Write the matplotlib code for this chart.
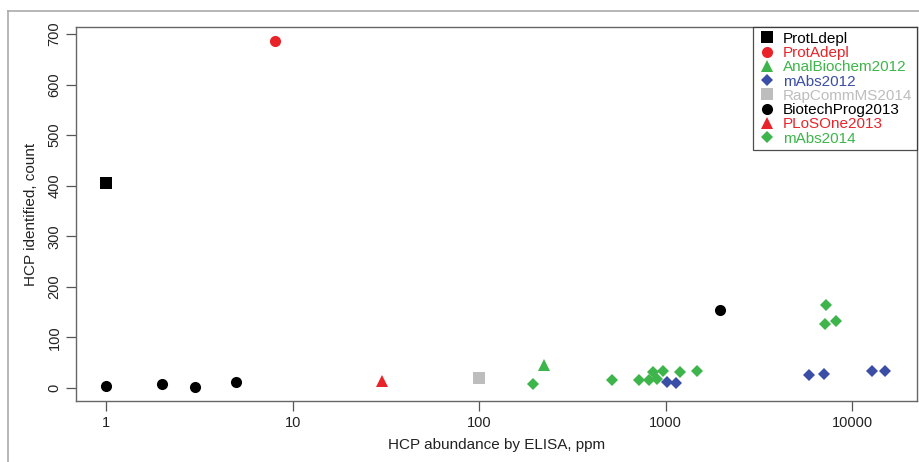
import matplotlib
matplotlib.use("Agg")
import matplotlib.pyplot as plt
from matplotlib.lines import Line2D

plt.rcParams['font.family'] = ['Liberation Sans', 'DejaVu Sans']

series_names = ["ProtLdepl", "ProtAdepl", "AnalBiochem2012", "mAbs2012",
                "RapCommMS2014", "BiotechProg2013", "PLoSOne2013", "mAbs2014"]

protL_x = [1]
protL_y = [405]
protA_x = [8]
protA_y = [686]
anal_x = [223]
anal_y = [46]
mabs12_x = [1010, 1140, 5820, 7050, 12700, 15000]
mabs12_y = [12, 9, 25, 27, 34, 34]
rap_x = [100]
rap_y = [20]
biotech_x = [1, 2, 3, 5, 1960]
biotech_y = [3, 7, 2, 11, 154]
plos_x = [30]
plos_y = [13]
mabs14_x = [193, 516, 717, 811, 852, 895, 972, 1193, 1465, 7230, 7140, 8140]
mabs14_y = [7, 15, 15, 15, 31, 18, 34, 31, 34, 163, 126, 133]

x_ticks = [1, 10, 100, 1000, 10000]
y_ticks = [0, 100, 200, 300, 400, 500, 600, 700]

black = "#000000"
red = "#e8242a"
green = "#3db54a"
blue = "#3a4ea6"
gray = "#bdbdbd"

styles = [
    (protL_x, protL_y, "s", black, 8),
    (protA_x, protA_y, "o", red, 8),
    (anal_x, anal_y, "^", green, 9),
    (mabs12_x, mabs12_y, "D", blue, 6),
    (rap_x, rap_y, "s", gray, 8),
    (biotech_x, biotech_y, "o", black, 8),
    (plos_x, plos_y, "^", red, 9),
    (mabs14_x, mabs14_y, "D", green, 6),
]

fig = plt.figure(figsize=(9.2, 4.62), dpi=100)
ax = fig.add_axes([76 / 920, 61 / 462, 841 / 920, 374 / 462])

handles = []
for (xs, ys, m, c, ms), name in zip(styles, series_names):
    h, = ax.plot(xs, ys, linestyle="none", marker=m, color=c, markersize=ms,
                 markeredgewidth=0, label=name)
    handles.append(h)

ax.set_xscale("log")
ax.set_xlim(0.69, 22200)
ax.set_ylim(-26, 714)
ax.set_xticks(x_ticks)
ax.set_xticklabels([str(v) for v in x_ticks])
ax.minorticks_off()
ax.set_yticks(y_ticks)
ax.set_yticklabels([str(v) for v in y_ticks], rotation=90, va="center")
ax.tick_params(axis="both", direction="out", length=7, width=0.9, labelsize=10.5,
               color="#555555", labelcolor="#222222", pad=3.5)
for s in ax.spines.values():
    s.set_linewidth(1.0)
    s.set_color("#666666")

ax.set_xlabel("HCP abundance by ELISA, ppm", fontsize=11, color="#222222", labelpad=6)
ax.set_ylabel("HCP identified, count", fontsize=11, color="#222222", labelpad=7)

leg = ax.legend(handles=handles, loc="upper right", fontsize=11, frameon=True,
                fancybox=False, borderaxespad=0, labelspacing=0.02,
                handletextpad=0.45, handlelength=1.2, borderpad=0.3)
leg.get_frame().set_edgecolor("#222222")
leg.get_frame().set_linewidth(0.9)
for t, st in zip(leg.get_texts(), styles):
    t.set_color(st[3])

# outer frame lines (top and left) as in the reference figure
fig.lines.append(Line2D([8 / 920, 1.0], [1 - 11 / 462, 1 - 11 / 462], transform=fig.transFigure,
                        color="#aaaaaa", linewidth=1.2))
fig.lines.append(Line2D([8 / 920, 8 / 920], [0.0, 1 - 11 / 462], transform=fig.transFigure,
                        color="#aaaaaa", linewidth=1.2))

fig.savefig("out.png", dpi=100)
